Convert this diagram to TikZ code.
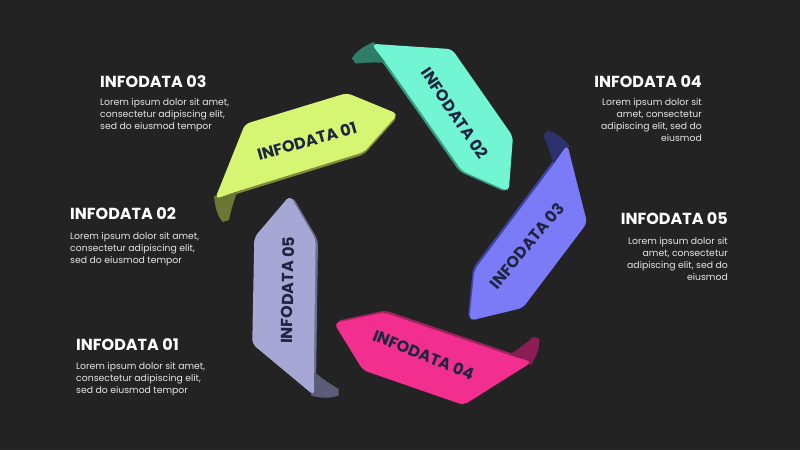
\documentclass[tikz,border=0pt]{standalone}
\usepackage{fontspec}
\setmainfont{Poppins}
\usepackage{tikz}
\usetikzlibrary{positioning}
\definecolor{bgdark}{HTML}{232323}
\definecolor{ribink}{HTML}{1F2440}
\definecolor{bodygrey}{HTML}{E6E6E6}
\definecolor{ribA}{HTML}{D6F573}
\definecolor{ribAedge}{HTML}{7D8C3A}
\definecolor{ribAcurl}{HTML}{6B7833}
\definecolor{ribB}{HTML}{72F5D2}
\definecolor{ribBedge}{HTML}{3A9A80}
\definecolor{ribBcurl}{HTML}{2E7D68}
\definecolor{ribC}{HTML}{7B7BF7}
\definecolor{ribCedge}{HTML}{3F45A8}
\definecolor{ribCcurl}{HTML}{2D326E}
\definecolor{ribD}{HTML}{F22F8F}
\definecolor{ribDedge}{HTML}{A3225F}
\definecolor{ribDcurl}{HTML}{8B1D55}
\definecolor{ribE}{HTML}{A7A7D6}
\definecolor{ribEedge}{HTML}{6E6F92}
\definecolor{ribEcurl}{HTML}{5B5D78}
%% one ribbon, drawn in the frame of the upper-left one
\newcommand{\ribbonFace}{(245,124) -- (347,93) -- (398,114) -- (364,152) -- (238,191) -- (215,199) -- cycle}
\newcommand{\ribbon}[1]
        {
          \fill[#1edge, rounded corners=5pt, yshift=-2.5pt] \ribbonFace;
          \fill[#1curl] (214,196) .. controls (215,208) and (218,217) .. (223,222)
              -- (229,220) .. controls (231,210) and (234,200) .. (238,190) -- cycle;
          \fill[#1, rounded corners=5pt] \ribbonFace;
        }

\begin{document}
\begin{tikzpicture}[x=1pt, y=-1pt,
    ribtext/.style={font=\fontsize{16}{16}\selectfont\bfseries, text=ribink, inner sep=0pt},
    headtxt/.style={font=\fontsize{16}{16}\selectfont\bfseries, text=white, inner sep=0pt},
    bodytxt/.style={font=\fontsize{9.3}{12}\selectfont, text=bodygrey, inner sep=0pt}]
  \fill[bgdark] (0,0) rectangle (800,450);
  \useasboundingbox (0,0) rectangle (800,450);
  \coordinate (ctr) at (400,229);

  %% ribbons, turned round the centre
  \foreach \k/\col/\ang/\num in {0/ribA/16/01, 1/ribB/-56/02, 2/ribC/50/03, 3/ribD/-22/04, 4/ribE/89/05} {
    \begin{scope}[rotate around={-72*\k:(ctr)}]
      \ribbon{\col}
    \end{scope}
    \path[rotate around={-72*\k:(ctr)}] (307,141) node[ribtext, rotate=\ang] (lab\num) {INFODATA \num};
  }

  %% texts left
  \node[headtxt, anchor=base west] (head3) at (100,87) {INFODATA 03};
  \node[bodytxt, anchor=north west, align=left] (body3) at (100,98)
      {Lorem ipsum dolor sit amet,\\consectetur adipiscing elit,\\sed do eiusmod tempor};
  \node[headtxt, anchor=base west] (head2) at (70,219) {INFODATA 02};
  \node[bodytxt, anchor=north west, align=left] (body2) at (70,232)
      {Lorem ipsum dolor sit amet,\\consectetur adipiscing elit,\\sed do eiusmod tempor};
  \node[headtxt, anchor=base west] (head1) at (76,350) {INFODATA 01};
  \node[bodytxt, anchor=north west, align=left] (body1) at (76,362)
      {Lorem ipsum dolor sit amet,\\consectetur adipiscing elit,\\sed do eiusmod tempor};

  %% texts right
  \node[headtxt, anchor=base east] (head4) at (702,87) {INFODATA 04};
  \node[bodytxt, anchor=north east, align=right] (body4) at (702,98)
      {Lorem ipsum dolor sit\\amet, consectetur\\adipiscing elit, sed do\\eiusmod};
  \node[headtxt, anchor=base east] (head5) at (728,224) {INFODATA 05};
  \node[bodytxt, anchor=north east, align=right] (body5) at (728,237)
      {Lorem ipsum dolor sit\\amet, consectetur\\adipiscing elit, sed do\\eiusmod};
\end{tikzpicture}
\end{document}
